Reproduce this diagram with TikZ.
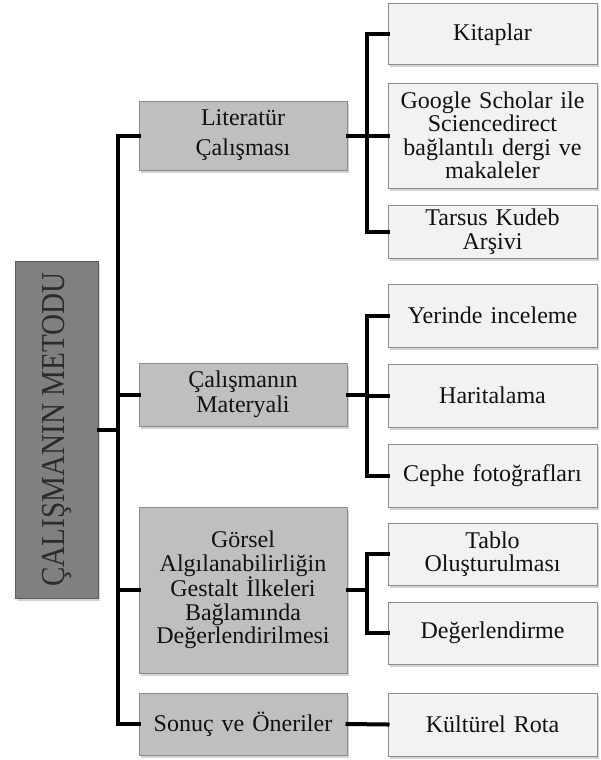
\documentclass[tikz,border=0pt]{standalone}
\usepackage{fontspec}
\setmainfont{Liberation Serif}
\usetikzlibrary{shadows}
\definecolor{rootfill}{HTML}{808080}
\definecolor{rootdraw}{HTML}{5F5F5F}
\definecolor{midfill}{HTML}{BFBFBF}
\definecolor{leaffill}{HTML}{F2F2F2}
\definecolor{boxdraw}{HTML}{8C8C8C}
\definecolor{txt}{HTML}{111111}
\definecolor{roottxtc}{HTML}{2B2B2B}
\tikzset{
  boxbase/.style={draw=boxdraw, line width=1pt, align=center, inner sep=1pt,
    text=txt, drop shadow={opacity=0.35, shadow xshift=1.5pt, shadow yshift=-2.5pt}},
  rootbox/.style={boxbase, fill=rootfill, draw=rootdraw},
  midbox/.style={boxbase, fill=midfill, minimum width=208pt, text width=206pt,
    font=\fontsize{24}{23.5}\selectfont},
  leafbox/.style={boxbase, fill=leaffill, minimum width=209pt, text width=207pt,
    font=\fontsize{24}{23.5}\selectfont},
  conn/.style={line width=4pt, black, line join=miter, line cap=rect},
}
\begin{document}
\begin{tikzpicture}[x=1pt,y=-1pt]
\useasboundingbox (0,0) rectangle (600,760);
% root
\node[rootbox, minimum width=83pt, minimum height=337pt] (root) at (56.5,429.5) {};
\node[rotate=90, text=roottxtc, font=\fontsize{31}{32}\selectfont] (roottxt) at (root.center) {\scalebox{0.94}[1.08]{ÇALIŞMANIN METODU}};
% level 2
\node[midbox, minimum height=69pt, font=\fontsize{24}{30}\selectfont] (lit) at (243,135.5) {Literatür\\Çalışması};
\node[midbox, minimum height=63pt, font=\fontsize{24}{25}\selectfont] (mat) at (243,394.5) {Çalışmanın\\Materyali};
\node[midbox, minimum height=166pt] (gor) at (243,590) {Görsel\\Algılanabilirliğin\\Gestalt İlkeleri\\Bağlamında\\Değerlendirilmesi};
\node[midbox, minimum height=62pt] (son) at (243,724) {Sonuç ve Öneriler};
% level 3
\node[leafbox, minimum height=61pt] (kit) at (492.5,34.5) {Kitaplar};
\node[leafbox, minimum height=105pt] (goo) at (492.5,135.5) {Google Scholar ile\\Sciencedirect\\bağlantılı dergi ve\\makaleler};
\node[leafbox, minimum height=53pt] (tar) at (492.5,231.5) {Tarsus Kudeb\\Arşivi};
\node[leafbox, minimum height=63pt] (yer) at (492.5,315.5) {Yerinde inceleme};
\node[leafbox, minimum height=63pt] (har) at (492.5,395.5) {Haritalama};
\node[leafbox, minimum height=63pt] (cep) at (492.5,475.5) {Cephe fotoğrafları};
\node[leafbox, minimum height=62pt] (tab) at (492.5,554) {Tablo\\Oluşturulması};
\node[leafbox, minimum height=62pt] (deg) at (492.5,633) {Değerlendirme};
\node[leafbox, minimum height=63pt] (kul) at (492.5,724.5) {Kültürel Rota};
% trunks
\coordinate (t1) at (118,0);
\coordinate (t2) at (367,0);
% connectors
\draw[conn] (root.east) -- (root.east -| t1);
\draw[conn] (lit.west) -- (lit.west -| t1) -- (son.west -| t1) -- (son.west);
\draw[conn] (mat.west) -- (mat.west -| t1);
\draw[conn] (gor.west) -- (gor.west -| t1);
\draw[conn] (lit.east) -- (lit.east -| t2);
\draw[conn] (kit.west) -- (kit.west -| t2) -- (tar.west -| t2) -- (tar.west);
\draw[conn] (goo.west) -- (goo.west -| t2);
\draw[conn] (mat.east) -- (mat.east -| t2);
\draw[conn] (yer.west) -- (yer.west -| t2) -- (cep.west -| t2) -- (cep.west);
\draw[conn] (har.west) -- (har.west -| t2);
\draw[conn] (gor.east) -- (gor.east -| t2);
\draw[conn] (tab.west) -- (tab.west -| t2) -- (deg.west -| t2) -- (deg.west);
\draw[conn] (son.east) -- (kul.west);
\end{tikzpicture}
\end{document}
